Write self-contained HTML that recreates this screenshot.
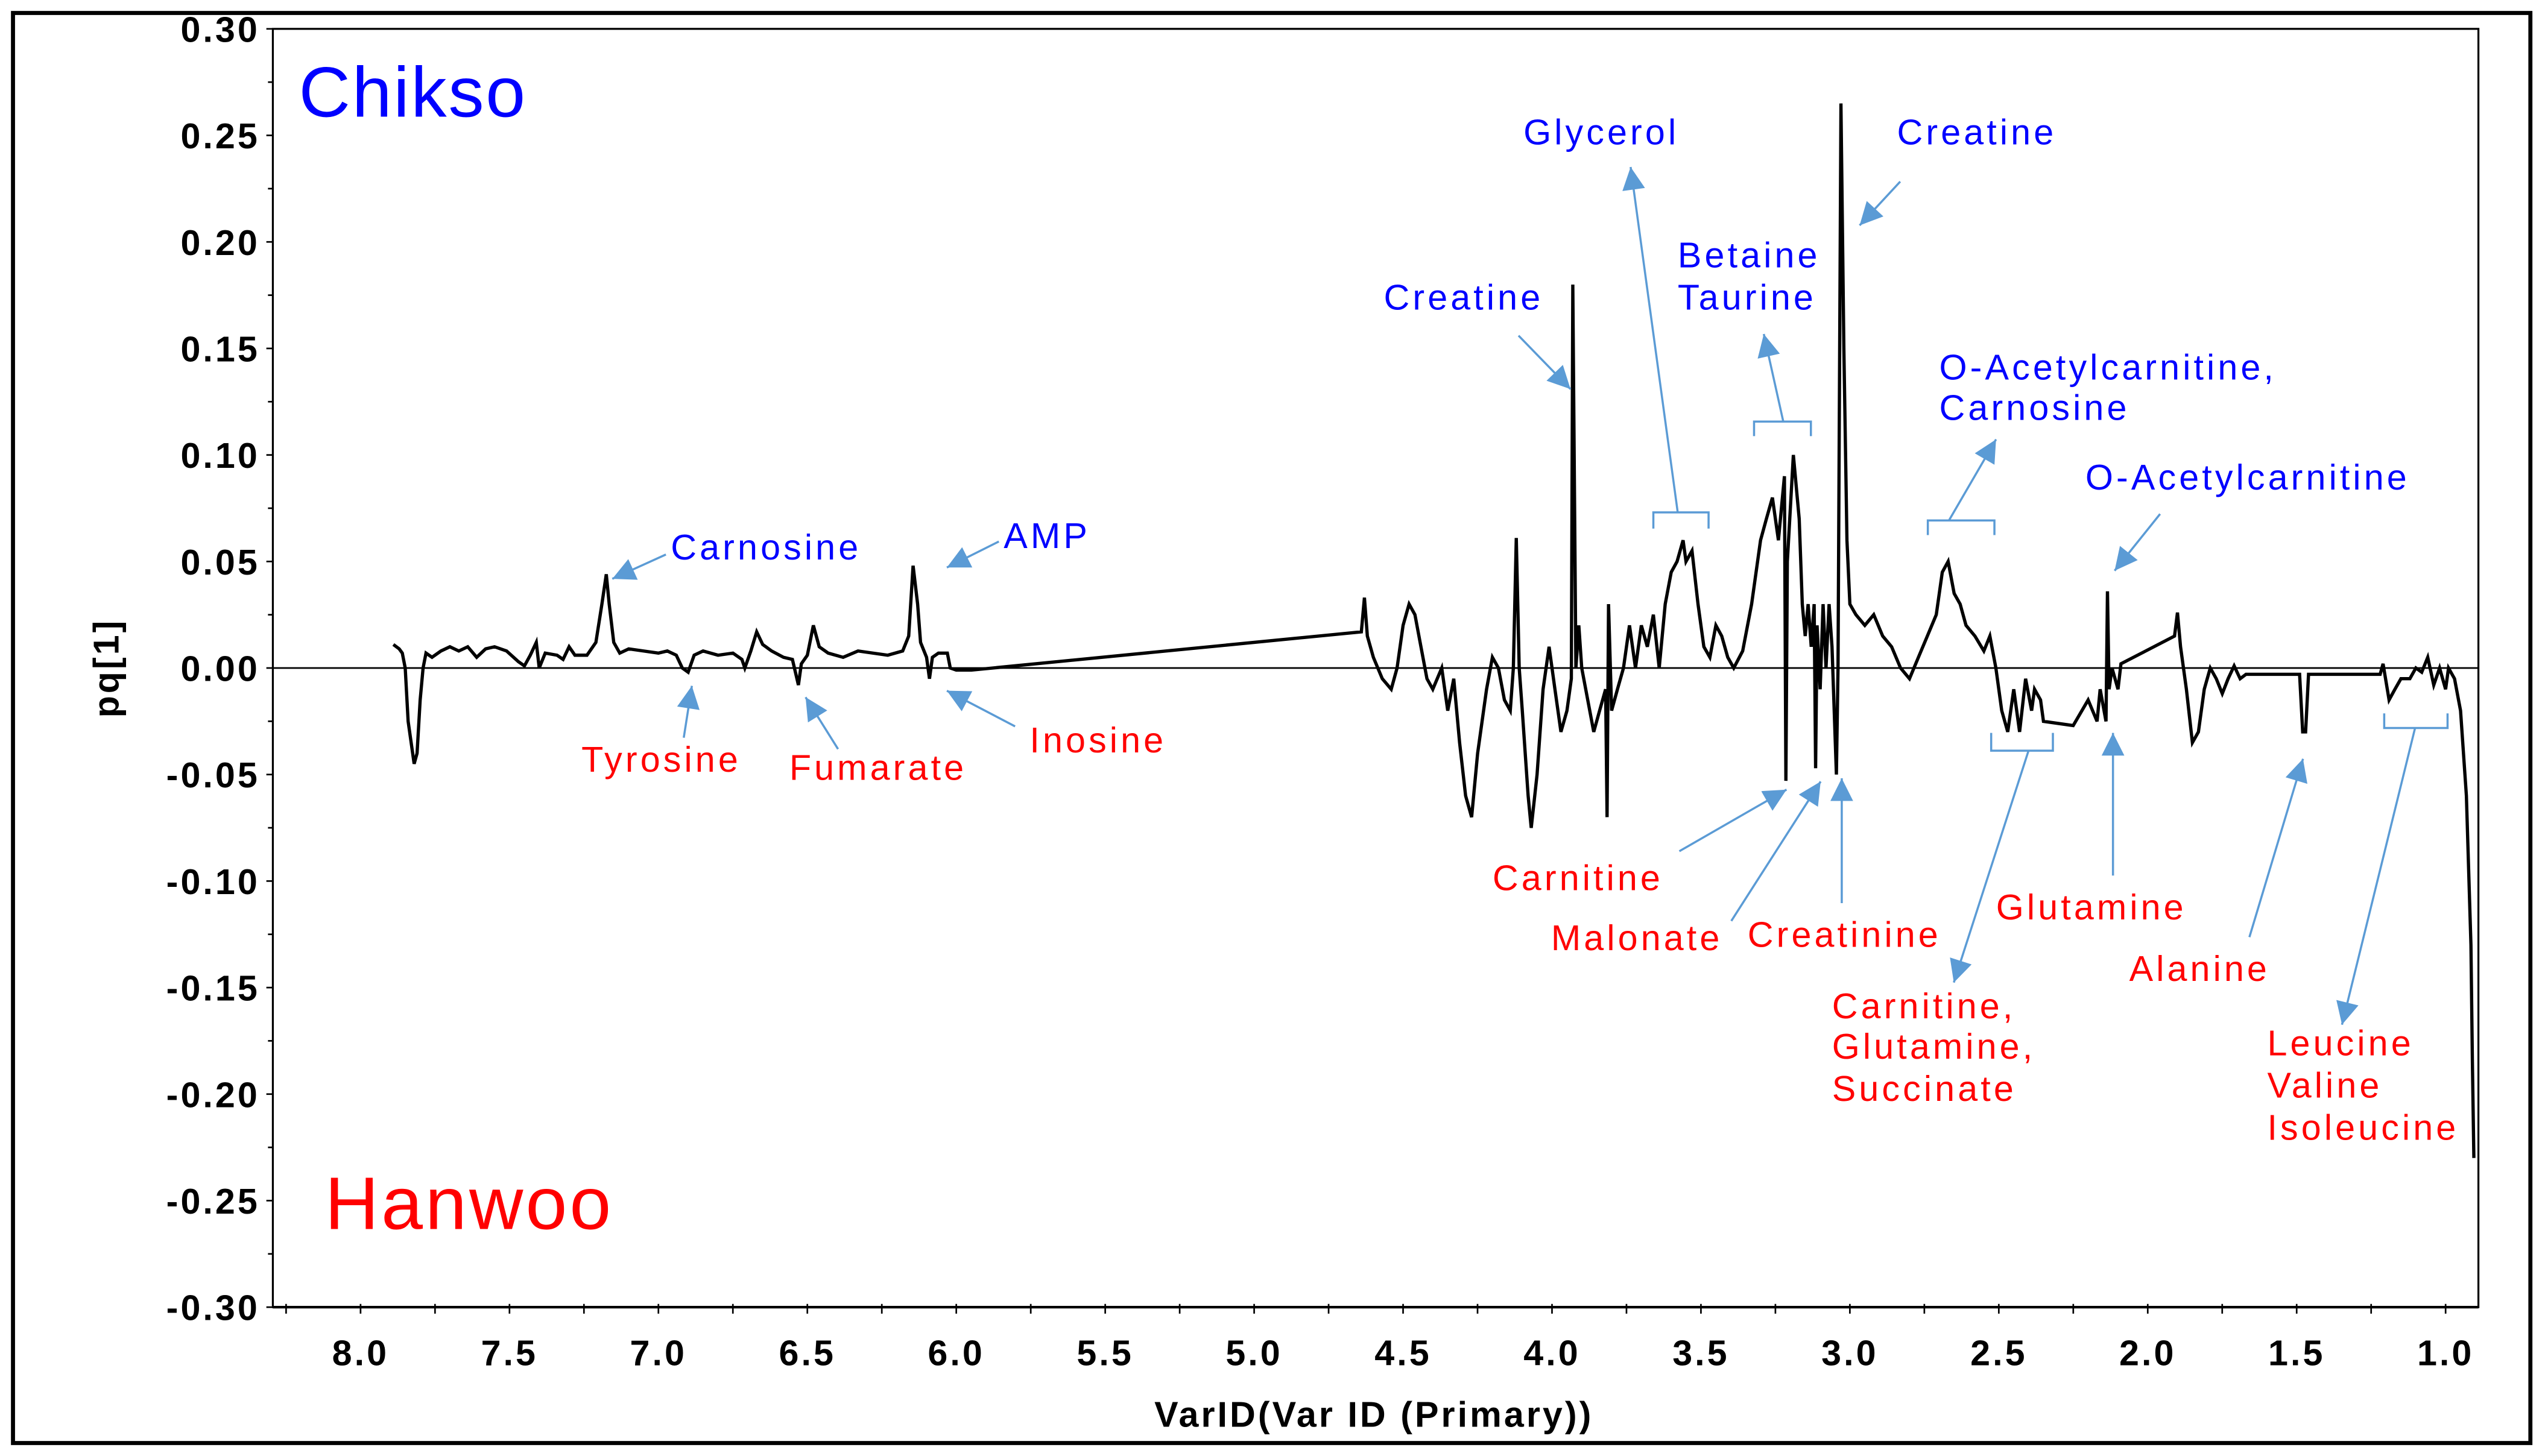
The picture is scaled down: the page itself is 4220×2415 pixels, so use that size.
<!DOCTYPE html>
<html>
<head>
<meta charset="utf-8">
<style>
html,body{margin:0;padding:0;background:#fff;}
svg{display:block;}
.tick{font-family:"Liberation Sans",Arial,sans-serif;font-weight:bold;font-size:22px;letter-spacing:1.5px;fill:#000;}
.ann{font-family:"Liberation Sans",Arial,sans-serif;font-size:22px;letter-spacing:1.9px;}
.blue{fill:#0000ff;}
.red{fill:#ff0000;}
</style>
</head>
<body>
<svg id="chart" width="4220" height="2415" viewBox="0 0 1567 898" preserveAspectRatio="none" xmlns="http://www.w3.org/2000/svg">
<rect x="8" y="8" width="1550" height="882" fill="#fff" stroke="#000" stroke-width="2.5"/>
<g id="axes"></g>
<g id="trace"></g>
<g id="annotations"></g>
</svg>
<script>
// ---- data ----
const yTickValues = [0.30,0.25,0.20,0.15,0.10,0.05,0.00,-0.05,-0.10,-0.15,-0.20,-0.25,-0.30];
const yTickLabels = ["0.30","0.25","0.20","0.15","0.10","0.05","0.00","-0.05","-0.10","-0.15","-0.20","-0.25","-0.30"];
const xTickValues = [8.0,7.5,7.0,6.5,6.0,5.5,5.0,4.5,4.0,3.5,3.0,2.5,2.0,1.5,1.0];
const xTickLabels = ["8.0","7.5","7.0","6.5","6.0","5.5","5.0","4.5","4.0","3.5","3.0","2.5","2.0","1.5","1.0"];

// aromatic region
const ppmA = [7.89,7.87,7.86,7.85,7.84,7.82,7.81,7.80,7.79,7.78,
  7.76,7.73,7.70,7.67,7.64,7.61,7.58,7.55,7.51,7.47,
  7.45,7.43,7.41,7.40,7.38,7.34,7.32,7.30,7.28,7.24,
  7.21,7.19,7.175,7.165,7.15,7.13,7.10,7.05,7.00,6.97,
  6.94,6.92,6.90,6.88,6.85,6.80,6.75,6.72,6.71,6.69,
  6.67,6.65,6.62,6.58,6.55,6.53,6.52,6.50,6.48,6.46,
  6.43,6.38,6.33,6.28,6.23,6.18,6.16,6.145,6.13,6.12,
  6.10,6.09,6.08,6.06,6.03,6.02,6.00,5.95];
const pqA = [0.011,0.009,0.007,0.0,-0.025,-0.045,-0.040,-0.015,0.0,0.007,
  0.005,0.008,0.010,0.008,0.010,0.005,0.009,0.010,0.008,0.003,
  0.001,0.006,0.012,0.0,0.007,0.006,0.004,0.010,0.006,0.006,
  0.012,0.030,0.044,0.030,0.012,0.007,0.009,0.008,0.007,0.008,
  0.006,0.0,-0.002,0.006,0.008,0.006,0.007,0.004,0.0,0.008,
  0.017,0.011,0.008,0.005,0.004,-0.008,0.002,0.006,0.020,0.010,
  0.007,0.005,0.008,0.007,0.006,0.008,0.015,0.048,0.030,0.012,
  0.005,-0.005,0.005,0.007,0.007,0.0,-0.001,-0.001];

// 4.6 - 3.0 region
const ppmB = [4.64,4.63,4.62,4.60,4.57,4.54,4.52,4.50,4.48,4.46,
  4.44,4.42,4.40,4.37,4.35,4.33,4.31,4.29,4.27,4.25,
  4.22,4.20,4.18,4.16,4.14,4.13,4.12,4.11,4.10,4.08,
  4.07,4.05,4.03,4.01,3.99,3.97,3.95,3.935,3.93,3.92,
  3.91,3.90,3.88,3.86,3.84,3.82,3.815,3.81,3.80,3.78,
  3.76,3.74,3.72,3.70,3.68,3.66,3.64,3.62,3.60,3.58,
  3.56,3.55,3.53,3.51,3.49,3.47,3.45,3.43,3.41,3.39,
  3.36,3.33,3.30,3.28,3.26,3.24,3.22,3.215,3.21,3.19,
  3.17,3.16,3.15,3.14,3.13,3.12,3.115,3.11,3.10,3.09,
  3.08,3.07,3.06,3.045,3.04,3.03,3.02,3.01,3.00];
const pqB = [0.017,0.033,0.015,0.005,-0.005,-0.010,0.0,0.020,0.030,0.025,
  0.010,-0.005,-0.010,0.0,-0.020,-0.005,-0.035,-0.060,-0.070,-0.040,
  -0.010,0.005,0.0,-0.015,-0.020,0.0,0.061,0.0,-0.020,-0.060,
  -0.075,-0.050,-0.010,0.010,-0.010,-0.030,-0.020,-0.005,0.180,0.0,
  0.020,0.0,-0.015,-0.030,-0.020,-0.010,-0.070,0.030,-0.020,-0.010,
  0.0,0.020,0.0,0.020,0.010,0.025,0.0,0.030,0.045,0.050,
  0.060,0.050,0.055,0.030,0.010,0.005,0.020,0.015,0.005,0.0,
  0.008,0.030,0.060,0.070,0.080,0.060,0.090,-0.053,0.050,0.100,
  0.070,0.030,0.015,0.030,0.010,0.030,-0.047,0.020,-0.010,0.030,
  0.0,0.030,0.010,-0.050,0.0,0.265,0.150,0.060,0.030];

// 3.0 - 0.9 region
const ppmC = [2.98,2.95,2.92,2.89,2.86,2.83,2.80,2.77,2.74,2.71,
  2.69,2.67,2.65,2.63,2.61,2.58,2.55,2.53,2.51,2.49,
  2.47,2.45,2.43,2.41,2.39,2.38,2.36,2.35,2.25,2.20,
  2.17,2.16,2.14,2.135,2.13,2.12,2.10,2.09,1.91,1.90,
  1.89,1.87,1.85,1.83,1.81,1.79,1.77,1.75,1.73,1.71,
  1.69,1.67,1.49,1.48,1.47,1.46,1.22,1.21,1.19,1.17,
  1.15,1.12,1.10,1.08,1.06,1.04,1.02,1.00,0.99,0.97,
  0.95,0.93,0.915,0.91,0.905];
const pqC = [0.025,0.020,0.025,0.015,0.010,0.0,-0.005,0.005,0.015,0.025,
  0.045,0.050,0.035,0.030,0.020,0.015,0.008,0.015,0.0,-0.020,
  -0.030,-0.010,-0.030,-0.005,-0.020,-0.010,-0.015,-0.025,-0.027,-0.015,
  -0.025,-0.010,-0.025,0.036,-0.010,0.0,-0.010,0.002,0.015,0.026,
  0.010,-0.010,-0.035,-0.030,-0.010,0.0,-0.005,-0.012,-0.005,0.001,
  -0.005,-0.003,-0.003,-0.030,-0.030,-0.003,-0.003,0.002,-0.015,-0.010,
  -0.005,-0.005,0.0,-0.002,0.005,-0.008,0.0,-0.010,0.0,-0.005,
  -0.020,-0.060,-0.130,-0.185,-0.230];

const ppm = ppmA.concat(ppmB, ppmC);
const pq = pqA.concat(pqB, pqC);

// ---- scales ----
const X0 = 222, PXPPM = 183.4, Y0 = 412, PXVAL = 1314;
function xS(p){ return X0 + (8 - p) * PXPPM; }
function yS(v){ return Y0 - v * PXVAL; }
const NS = "http://www.w3.org/2000/svg";
function mk(tag, attrs, parent){
  const e = document.createElementNS(NS, tag);
  for (const k in attrs) e.setAttribute(k, attrs[k]);
  parent.appendChild(e);
  return e;
}
const axes = document.getElementById('axes');
const L = 168, R = 1526, T = yS(0.30), B = yS(-0.30);

let e;
e = mk('path', {d:`M${L},${B} L${L},${T} L${R},${T} L${R},${B} Z`, fill:'none', stroke:'#000', 'stroke-width':1.2}, axes);


e = mk('line', {x1:L, x2:R, y1:B, y2:B, stroke:'#000', 'stroke-width':1.6}, axes);


e = mk('line', {x1:L, x2:R, y1:yS(0), y2:yS(0), stroke:'#000', 'stroke-width':1}, axes);



yTickValues.forEach((v,i)=>{
  const y = yS(v);
  e = mk('line', {x1:L-4, x2:L, y1:y, y2:y, stroke:'#000', 'stroke-width':1}, axes);
  
  
  if (i < yTickValues.length-1) {
    const ym = yS(v - 0.025);
    e = mk('line', {x1:L-3, x2:L, y1:ym, y2:ym, stroke:'#000', 'stroke-width':1}, axes);
    
    
  }
  e = mk('text', {x:L-8, y:y+8, 'text-anchor':'end', class:'tick'}, axes);
  e.textContent = yTickLabels[i];
  
  
});
for (let p = 8.25; p >= 0.99; p -= 0.25) {
  const x = xS(p);
  e = mk('line', {x1:x, x2:x, y1:B-2, y2:B+4, stroke:'#000', 'stroke-width':1}, axes);
  
  
}
xTickValues.forEach((p,i)=>{
  e = mk('text', {x:xS(p), y:842, 'text-anchor':'middle', class:'tick'}, axes);
  e.textContent = xTickLabels[i];
  
  
});
e = mk('text', {x:846, y:880, 'text-anchor':'middle', class:'tick'}, axes);
e.textContent = 'VarID(Var ID (Primary))';


e = mk('text', {x:0, y:0, 'text-anchor':'middle', class:'tick', transform:'translate(73,412) rotate(-90)'}, axes);
e.textContent = 'pq[1]';



const tr = document.getElementById('trace');
const pts = ppm.map((p,i)=> xS(p).toFixed(1)+','+yS(pq[i]).toFixed(1)).join(' ');
e = mk('polyline', {points:pts, fill:'none', stroke:'#000', 'stroke-width':2, 'stroke-linejoin':'miter'}, tr);



const an = document.getElementById('annotations');
const AC = '#5b9bd5';
function label(txt, x, y, cls){
  const t = mk('text', {x:x, y:y, class:'ann '+cls}, an);
  t.textContent = txt;
  
  
}
function arrow(x1,y1,x2,y2){
  const l = mk('line', {x1:x1,y1:y1,x2:x2,y2:y2, stroke:AC, 'stroke-width':1.3}, an);
  
  
  const a = Math.atan2(y2-y1, x2-x1), s = 14, w = 7;
  const bx = x2 - s*Math.cos(a), by = y2 - s*Math.sin(a);
  const p = `${x2},${y2} ${bx + w*Math.sin(a)},${by - w*Math.cos(a)} ${bx - w*Math.sin(a)},${by + w*Math.cos(a)}`;
  const h = mk('polygon', {points:p, fill:AC}, an);
  
  
}
function bracket(x1,x2,y,leg){
  const b = mk('path', {d:`M${x1},${y+leg} L${x1},${y} L${x2},${y} L${x2},${y+leg}`, fill:'none', stroke:AC, 'stroke-width':1.3}, an);
  
  
}
const gt = mk('text', {x:184, y:72, fill:'#0000ff', 'font-family':'"Liberation Sans",Arial,sans-serif', 'font-size':44, 'letter-spacing':1}, an);
gt.textContent = 'Chikso';


const gh = mk('text', {x:200, y:758, fill:'#ff0000', 'font-family':'"Liberation Sans",Arial,sans-serif', 'font-size':46, 'letter-spacing':1.5}, an);
gh.textContent = 'Hanwoo';



label('Carnosine',413,345,'blue'); arrow(410,342,377,357);
label('AMP',618,338,'blue'); arrow(615,334,583,350);
label('Creatine',852,191,'blue'); arrow(935,207,967,240);
label('Glycerol',938,89,'blue'); bracket(1018,1052,316,10); arrow(1033,316,1004,103);
label('Betaine',1033,165,'blue'); label('Taurine',1033,191,'blue'); bracket(1080,1115,260,9); arrow(1098,260,1086,206);
label('Creatine',1168,89,'blue'); arrow(1170,112,1145,139);
label('O-Acetylcarnitine,',1194,234,'blue'); label('Carnosine',1194,259,'blue'); bracket(1187,1228,321,9); arrow(1200,321,1229,271);
label('O-Acetylcarnitine',1284,302,'blue'); arrow(1330,317,1302,352);

label('Tyrosine',358,476,'red'); arrow(421,455,426,423);
label('Fumarate',486,481,'red'); arrow(516,462,496,430);
label('Inosine',634,464,'red'); arrow(625,448,583,426);
label('Carnitine',919,549,'red'); arrow(1034,525,1100,487);
label('Malonate',955,586,'red'); arrow(1066,568,1121,482);
label('Creatinine',1076,584,'red'); arrow(1134,557,1134,480);
label('Carnitine,',1128,628,'red'); label('Glutamine,',1128,653,'red'); label('Succinate',1128,679,'red');
bracket(1226,1264,463,-11); arrow(1249,463,1203,606);
label('Glutamine',1229,567,'red'); arrow(1301,540,1301,452);
label('Alanine',1311,605,'red'); arrow(1385,578,1418,468);
label('Leucine',1396,651,'red'); label('Valine',1396,677,'red'); label('Isoleucine',1396,703,'red');
bracket(1468,1507,449,-9); arrow(1487,449,1442,632);
</script>
</body>
</html>
